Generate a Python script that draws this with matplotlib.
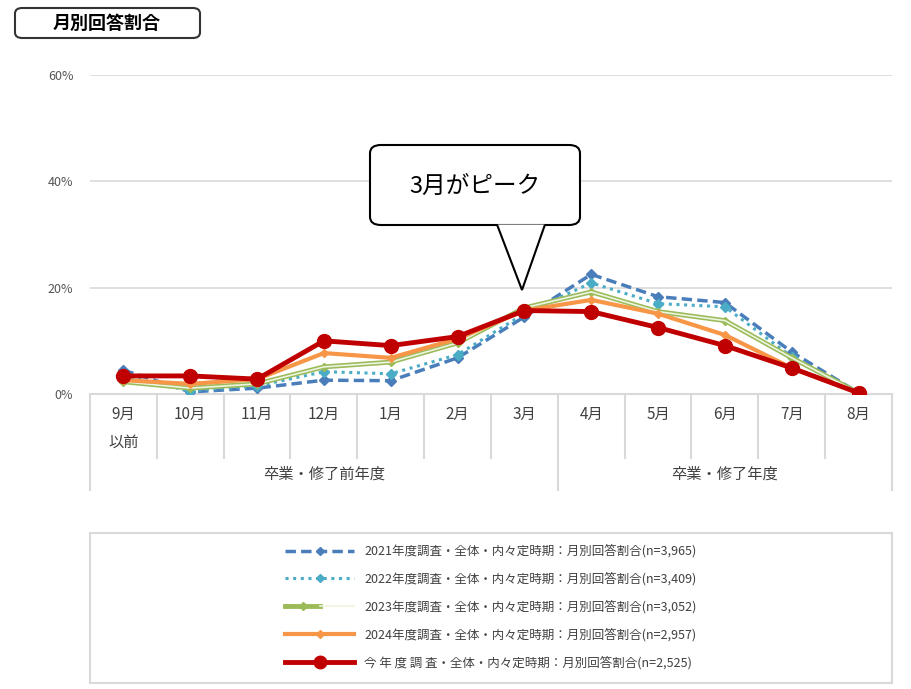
import matplotlib
matplotlib.use("Agg")
import matplotlib.pyplot as plt
from matplotlib.patches import FancyBboxPatch, Polygon
from matplotlib.lines import Line2D
from matplotlib.legend_handler import HandlerTuple

plt.rcParams['font.family'] = ['Noto Sans CJK JP', 'DejaVu Sans']

months = ['9月\n以前', '10月', '11月', '12月', '1月', '2月', '3月', '4月', '5月', '6月', '7月', '8月']
groups = ['卒業・修了前年度', '卒業・修了年度']
yticks = [0, 20, 40, 60]
s2021 = [4.5, 0.4, 1.1, 2.6, 2.5, 6.8, 14.5, 22.5, 18.3, 17.2, 7.9, 0.2]
s2022 = [3.4, 0.6, 1.5, 4.2, 3.8, 7.4, 15.1, 20.9, 17.0, 16.4, 7.0, 0.2]
s2023 = [2.3, 1.1, 1.9, 5.1, 6.0, 9.6, 16.2, 19.2, 15.5, 13.8, 6.8, 0.2]
s2024 = [2.6, 1.9, 2.8, 7.7, 6.8, 10.4, 15.7, 17.7, 15.1, 11.1, 4.9, 0.2]
s2025 = [3.4, 3.4, 2.8, 10.0, 9.1, 10.8, 15.7, 15.5, 12.5, 9.1, 4.9, 0.2]
labels = ['2021年度調査・全体・内々定時期：月別回答割合(n=3,965)',
          '2022年度調査・全体・内々定時期：月別回答割合(n=3,409)',
          '2023年度調査・全体・内々定時期：月別回答割合(n=3,052)',
          '2024年度調査・全体・内々定時期：月別回答割合(n=2,957)',
          '今 年 度 調 査・全体・内々定時期：月別回答割合(n=2,525)']

W, H = 912, 689
fig = plt.figure(figsize=(9.12, 6.89), dpi=100)
def fx(p): return p / W
def fy(p): return 1 - p / H
ax = fig.add_axes([fx(90), fy(394), fx(892) - fx(90), fy(75) - fy(394)])
x = list(range(len(months)))

h1 = ax.plot(x, s2021, color='#4a7ebb', lw=2.5, ls=(0, (3, 1.5)), marker='D', ms=5, zorder=3)[0]
h2 = ax.plot(x, s2022, color='#4bacc6', lw=2.2, ls=(0, (1, 1.5)), marker='D', ms=5, zorder=3)[0]
h3a = ax.plot(x, s2023, color='#9bbb59', lw=3.5, marker='D', ms=4, zorder=3)[0]
h3b = ax.plot(x, s2023, color='#eef4e2', lw=1.2, zorder=3)[0]
h4 = ax.plot(x, s2024, color='#f79646', lw=3, marker='D', ms=4, zorder=4)[0]
h5 = ax.plot(x, s2025, color='#c00000', lw=3.5, marker='o', ms=10, zorder=5)[0]

ax.set_xlim(-0.5, len(months) - 0.5)
ax.set_ylim(0, 60)
ax.set_yticks(yticks)
ax.set_yticklabels([f'{v}%' for v in yticks], fontsize=9, color='#555555')
ax.yaxis.grid(True, color='#d9d9d9', lw=1.2)
ax.set_axisbelow(True)
for s in ['top', 'right', 'left']:
    ax.spines[s].set_visible(False)
ax.spines['bottom'].set_color('#d9d9d9')
ax.spines['bottom'].set_linewidth(1.5)
ax.tick_params(axis='y', length=0, pad=12)
ax.set_xticks(x)
ax.set_xticklabels([])
ax.tick_params(axis='x', length=0)

trans = ax.get_xaxis_transform()
for i, m in enumerate(months):
    lines = m.split('\n')
    ax.annotate(lines[0], (i, 0), xycoords=trans, xytext=(0, -20), textcoords='offset pixels',
                ha='center', va='center', fontsize=11, color='#404040')
    if len(lines) > 1:
        ax.annotate(lines[1], (i, 0), xycoords=trans, xytext=(0, -48), textcoords='offset pixels',
                    ha='center', va='center', fontsize=11, color='#404040')
sepc = '#d9d9d9'
for b in range(1, len(months)):
    xb = b - 0.5
    ymin = 490 if b == 7 else 458
    disp_x = ax.transData.transform((xb, 0))[0] / W
    fig.add_artist(Line2D([disp_x, disp_x], [fy(394), fy(ymin)], color=sepc, lw=1.5))
for px in [90, 892]:
    fig.add_artist(Line2D([fx(px), fx(px)], [fy(394), fy(490)], color=sepc, lw=1.5))
fig.text(fx(324), fy(474), groups[0], ha='center', va='center', fontsize=11, color='#404040')
fig.text(fx(725), fy(474), groups[1], ha='center', va='center', fontsize=11, color='#404040')

# callout
fig.add_artist(FancyBboxPatch((fx(370), fy(225)), fx(210), fy(145) - fy(225),
                              boxstyle='round,pad=0,rounding_size=0.012', fc='white', ec='black', lw=1.5,
                              transform=fig.transFigure))
fig.add_artist(Polygon([(fx(497), fy(224.5)), (fx(522), fy(290)), (fx(545), fy(224.5))], closed=False,
                       fc='white', ec='black', lw=1.5, transform=fig.transFigure, zorder=10))
fig.text(fx(475), fy(186), '3月がピーク', ha='center', va='center', fontsize=17, color='black', zorder=11)

# title box
fig.add_artist(FancyBboxPatch((fx(15), fy(38)), fx(185), fy(8) - fy(38),
                              boxstyle='round,pad=0,rounding_size=0.008', fc='white', ec='#333333', lw=1.5,
                              transform=fig.transFigure))
fig.text(fx(107), fy(23), '月別回答割合', ha='center', va='center', fontsize=13, fontweight='bold')

# legend
fig.add_artist(FancyBboxPatch((fx(90), fy(683)), fx(802), fy(533) - fy(683),
                              boxstyle='square,pad=0', fc='white', ec='#d9d9d9', lw=1.5, transform=fig.transFigure))
handles = [h1, h2, (h3a, h3b), h4, h5]
leg = fig.legend(handles, labels, loc='center', bbox_to_anchor=(fx(491), fy(607)), frameon=False,
                 fontsize=9, labelspacing=1.15, handlelength=5.5, markerscale=0.9,
                 handler_map={tuple: HandlerTuple(ndivide=None, pad=0)})
for t in leg.get_texts():
    t.set_color('#404040')

fig.savefig('out.png', dpi=100)
